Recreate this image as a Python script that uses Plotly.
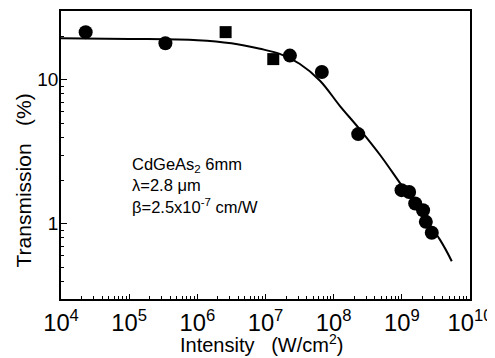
import plotly.graph_objects as go
import numpy as np

# Measured data (circles)
circ_I = [2.3e4, 3.4e5, 2.28e7, 6.7e7, 2.29e8, 9.9e8, 1.28e9, 1.57e9, 2.05e9, 2.25e9, 2.75e9]
circ_T = [21.4, 17.9, 14.7, 11.3, 4.19, 1.71, 1.66, 1.38, 1.24, 1.03, 0.866]
# Measured data (squares)
sq_I = [2.6e6, 1.3e7]
sq_T = [21.4, 13.9]
# Fitted curve
fit_I = [1e4, 1e5, 1e6, 3.16e6, 8.3e6, 1.62e7, 3.16e7, 6.3e7, 1.23e8, 2.4e8, 4.8e8, 9.3e8, 3.6e9, 5.4e9]
fit_T = [19.4, 19.2, 18.8, 17.9, 16.4, 15.1, 12.9, 9.84, 6.59, 4.54, 3.0, 1.93, 0.778, 0.549]

fig = go.Figure()
fig.add_trace(go.Scatter(x=fit_I, y=fit_T, mode="lines", line=dict(color="black", width=2, shape="spline", smoothing=1.0), showlegend=False))
fig.add_trace(go.Scatter(x=circ_I, y=circ_T, mode="markers", marker=dict(symbol="circle", size=14, color="black"), showlegend=False))
fig.add_trace(go.Scatter(x=sq_I, y=sq_T, mode="markers", marker=dict(symbol="square", size=12, color="black"), showlegend=False))

font = "Liberation Sans, Arial, sans-serif"
OFF = 8  # page body margin
W, H = 495 - OFF, 358 - OFF
L, T = 61 - OFF, 11 - OFF
PW, PH = 409, 288
R, B = W - L - PW, H - T - PH


def px(xp):
    return (xp - OFF - L) / PW


def py(yp):
    return 1 - (yp - OFF - T) / PH


NB = "\u00a0\u00a0\u00a0"
fig.update_layout(
    width=W, height=H,
    margin=dict(l=L, r=R, t=T, b=B, autoexpand=False),
    paper_bgcolor="white", plot_bgcolor="white",
    font=dict(family=font, color="black", size=18),
    annotations=[
        dict(x=px(130), y=py(153), xref="paper", yref="paper", showarrow=False,
             xanchor="left", yanchor="top", align="left",
             text="CdGeAs<sub>2</sub> 6mm<br>λ=2.8 μm<br>β=2.5x10<sup>-7</sup> cm/W",
             font=dict(size=16.5, family=font, color="black")),
        dict(x=px(261), y=py(358), xref="paper", yref="paper", showarrow=False,
             xanchor="center", yanchor="bottom",
             text="Intensity" + NB + "(W/cm<sup>2</sup>)",
             font=dict(size=20, family=font, color="black")),
        dict(x=px(23), y=py(180.5), xref="paper", yref="paper", showarrow=False,
             xanchor="center", yanchor="middle", textangle=-90,
             text="Transmission" + NB + "(%)",
             font=dict(size=21, family=font, color="black")),
    ],
)

fig.update_xaxes(
    type="log", range=[4, 10], dtick=1, exponentformat="power", showexponent="all",
    showline=True, linecolor="black", linewidth=1.5, mirror=True, automargin=False,
    ticks="inside", ticklen=5, tickwidth=1, tickcolor="black", showgrid=False, zeroline=False,
    minor=dict(ticks="inside", ticklen=3, dtick="D1", tickcolor="black", showgrid=False),
    tickfont=dict(size=19), ticklabelstandoff=3,
)
fig.update_yaxes(
    type="log", range=[np.log10(0.3), np.log10(30)], dtick=1, automargin=False,
    showline=True, linecolor="black", linewidth=1.5, mirror=True,
    ticks="inside", ticklen=6, tickwidth=1, tickcolor="black", showgrid=False, zeroline=False,
    minor=dict(ticks="inside", ticklen=3, dtick="D1", tickcolor="black", showgrid=False),
    tickfont=dict(size=19), ticklabelstandoff=-3,
)
fig.write_html("out.html")
